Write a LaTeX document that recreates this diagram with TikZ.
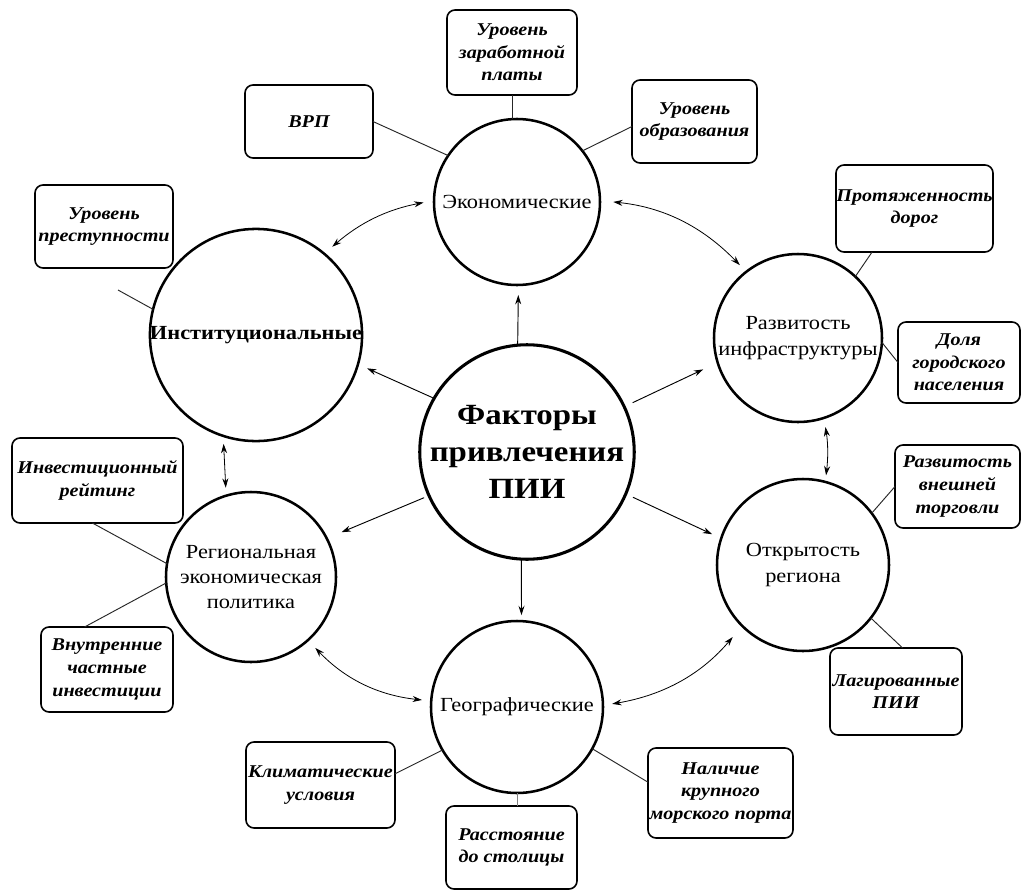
\documentclass[tikz,border=0pt]{standalone}
\usepackage{fontspec}
\setmainfont{Liberation Serif}
\newfontfamily\wserif[FakeStretch=1.12]{Liberation Serif}
\usetikzlibrary{arrows.meta,calc}
\begin{document}
\begin{tikzpicture}[x=0.75pt,y=-0.75pt,
  circ/.style={circle, draw, line width=1.9pt, inner sep=0pt, outer sep=0pt, align=center,
    font=\wserif\fontsize{15}{19}\selectfont},
  fbox/.style={draw, rounded corners=6pt, line width=1.2pt, inner sep=0pt, outer sep=0pt, align=center,
    font=\wserif\bfseries\itshape\fontsize{13.5}{17}\selectfont},
  sz/.style 2 args={minimum width={#1*0.75pt}, minimum height={#2*0.75pt}},
  dia/.style={minimum size={#1*0.75pt}},
  link/.style={line width=0.7pt, draw=black!85},
  arr/.style={line width=0.7pt, -{Stealth[length=7pt,width=4.5pt]}},
  darr/.style={line width=0.6pt, {Stealth[length=7pt,width=4.5pt]}-{Stealth[length=7pt,width=4.5pt]}}
]
\useasboundingbox (0,0) rectangle (1022,893);
\fill[white] (0,0) rectangle (1022,893);

% circles
\node[circ, dia=208, line width=2.3pt, font=\wserif\bfseries\fontsize{22}{27.5}\selectfont] (c) at (527,452) {Факторы\\привлечения\\ПИИ};
\node[circ, dia=166] (eco) at (517,202) {Экономические};
\node[circ, dia=200, font=\wserif\bfseries\fontsize{15}{19}\selectfont] (inst) at (256,335) {Институциональные};
\node[circ, dia=168] (infra) at (798,338) {Развитость\\инфраструктуры};
\node[circ, dia=172] (open) at (803,565) {Открытость\\региона};
\node[circ, dia=172] (geo) at (517,707) {Географические};
\node[circ, dia=170] (reg) at (251,577) {Региональная\\экономическая\\политика};

% boxes
\node[fbox, sz={130}{85}] (zarp) at (512,52.5) {Уровень\\заработной\\платы};
\node[fbox, sz={128}{73}] (vrp) at (309,121.5) {ВРП};
\node[fbox, sz={125}{83}] (obr) at (694.5,121.5) {Уровень\\образования};
\node[fbox, sz={138}{83}] (prest) at (104,226.5) {Уровень\\преступности};
\node[fbox, sz={157}{87}] (dorog) at (914.5,208.5) {Протяженность\\дорог};
\node[fbox, sz={122}{81}] (dolya) at (959,362.5) {Доля\\городского\\населения};
\node[fbox, sz={125}{83}] (torg) at (957.5,486.5) {Развитость\\внешней\\торговли};
\node[fbox, sz={132}{87}] (lag) at (896,691.5) {Лагированные\\ПИИ};
\node[fbox, sz={145}{90}] (nal) at (720.5,793) {Наличие\\крупного\\морского порта};
\node[fbox, sz={131}{83}] (rasst) at (511.5,847.5) {Расстояние\\до столицы};
\node[fbox, sz={149}{86}] (klim) at (320.5,785) {Климатические\\условия};
\node[fbox, sz={132}{85}] (vnutr) at (107,669.5) {Внутренние\\частные\\инвестиции};
\node[fbox, sz={171}{85}] (invest) at (97.5,480.5) {Инвестиционный\\рейтинг};

% box–circle links
\draw[link] (zarp.south) -- (zarp.south |- eco.north);
\draw[link] (vrp.east) -- (eco.146);
\draw[link] ($(obr.north west)!0.56!(obr.south west)$) -- (eco.38);
\coordinate (prestA) at (118,290);
\draw[link] (prestA) -- (inst.166);
\draw[link] ($(dorog.south west)!0.23!(dorog.south east)$) -- (infra.47);
\draw[link] (dolya.west) -- (infra.-3);
\draw[link] (torg.west) -- (open.37);
\draw[link] ($(lag.north west)!0.55!(lag.north east)$) -- (open.-38);
\draw[link] ($(nal.north west)!0.38!(nal.south west)$) -- (geo.-29);
\draw[link, draw=black!50] (geo.south) -- (geo.south |- rasst.north);
\draw[link] ($(klim.north east)!0.37!(klim.south east)$) -- (geo.210);
\draw[link] ($(vnutr.north west)!0.33!(vnutr.north east)$) -- (reg.184);
\draw[link] ($(invest.south west)!0.47!(invest.south east)$) -- (reg.171);

% arrows from the centre
\draw[arr, shorten >=7.5pt] (c.95) -- (eco.-89);
\draw[arr, shorten >=4.5pt] (c.-93) -- (geo.87);
\draw[arr, shorten >=7.5pt] (c.150) -- (inst.-16);
\draw[arr, shorten <=7pt, shorten >=12pt] (c.25) -- (infra.197);
\draw[arr, shorten <=6pt, shorten >=7.5pt] (c.-23) -- (open.162);
\draw[arr, shorten <=4pt, shorten >=12pt] (c.-156) -- (reg.27);

% double arrows between outer circles
\draw[darr, shorten <=8pt, shorten >=8pt] (inst.50) to[bend left=15] (eco.179);
\draw[darr, shorten <=10pt, shorten >=7pt] (eco.1) to[bend left=20] (infra.128);
\draw[darr, shorten <=7pt, shorten >=5pt] (infra.-72) to[bend left=8] (open.75);
\draw[darr, shorten <=7pt, shorten >=11pt] (geo.1) to[bend right=20] (open.225);
\draw[darr, shorten <=8pt, shorten >=7pt] (reg.-48) to[bend right=20] (geo.176);
\draw[darr, shorten <=6pt, shorten >=6pt] (inst.-108) -- (reg.107);
\end{tikzpicture}
\end{document}
